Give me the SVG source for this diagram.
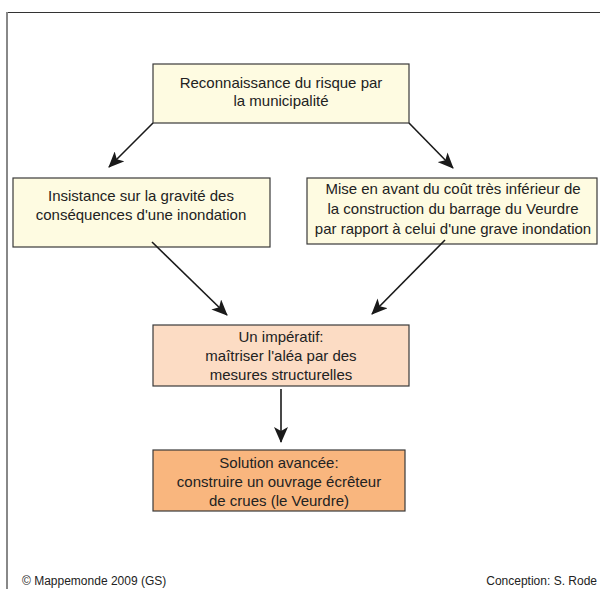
<svg xmlns="http://www.w3.org/2000/svg" width="600" height="589" viewBox="0 0 600 589">
<defs>
<marker id="ah" viewBox="0 0 16 14" refX="15" refY="7" markerWidth="16" markerHeight="14" markerUnits="userSpaceOnUse" orient="auto">
<path d="M0,0 L16,7 L0,14 L4,7 Z" fill="#1a1a1a"/>
</marker>
</defs>
<style>
.box{stroke:#3a3a3a;stroke-width:1.2}
.cream{fill:#fefbe1}
.peach{fill:#fcdcc4}
.orange{fill:#f9b67e}
text{font-family:"Liberation Sans",Arial,sans-serif;font-size:15px;fill:#222;text-anchor:middle}
.conn line{stroke:#1a1a1a;stroke-width:1.6;marker-end:url(#ah)}
</style>
<rect width="600" height="589" fill="#fff"/>
<g id="frame">
<line x1="7" y1="12.5" x2="600" y2="12.5" stroke="#333" stroke-width="1"/>
<line x1="7" y1="12" x2="7" y2="589" stroke="#888" stroke-width="2"/>
</g>
<g id="n1">
<rect class="box cream" x="153" y="64" width="256" height="59"/>
<text x="281" y="88">Reconnaissance du risque par</text>
<text x="281" y="106">la municipalité</text>
</g>
<g id="n2">
<rect class="box cream" x="13" y="178" width="257" height="69"/>
<text x="141" y="201">Insistance sur la gravité des</text>
<text x="141" y="220">conséquences d'une inondation</text>
</g>
<g id="n3">
<rect class="box cream" x="307" y="178" width="290" height="66"/>
<text x="453" y="194">Mise en avant du coût très inférieur de</text>
<text x="453" y="214">la construction du barrage du Veurdre</text>
<text x="453" y="234">par rapport à celui d'une grave inondation</text>
</g>
<g id="n4">
<rect class="box peach" x="153" y="325" width="256" height="61"/>
<text x="281" y="342">Un impératif:</text>
<text x="281" y="361">maîtriser l'aléa par des</text>
<text x="281" y="380">mesures structurelles</text>
</g>
<g id="n5">
<rect class="box orange" x="153" y="450" width="252" height="61"/>
<text x="279" y="468">Solution avancée:</text>
<text x="279" y="487">construire un ouvrage écrêteur</text>
<text x="279" y="506">de crues (le Veurdre)</text>
</g>
<g id="connectors" class="conn">
<line x1="153" y1="123" x2="109" y2="167"/>
<line x1="409" y1="123" x2="453" y2="168"/>
<line x1="152" y1="242" x2="227" y2="315"/>
<line x1="445" y1="240" x2="372" y2="314"/>
<line x1="281" y1="389" x2="281" y2="442"/>
</g>
<g id="footer">
<text x="22" y="585" style="text-anchor:start;font-size:12px">© Mappemonde 2009 (GS)</text>
<text x="597" y="585" style="text-anchor:end;font-size:12px">Conception: S. Rode</text>
</g>
</svg>
